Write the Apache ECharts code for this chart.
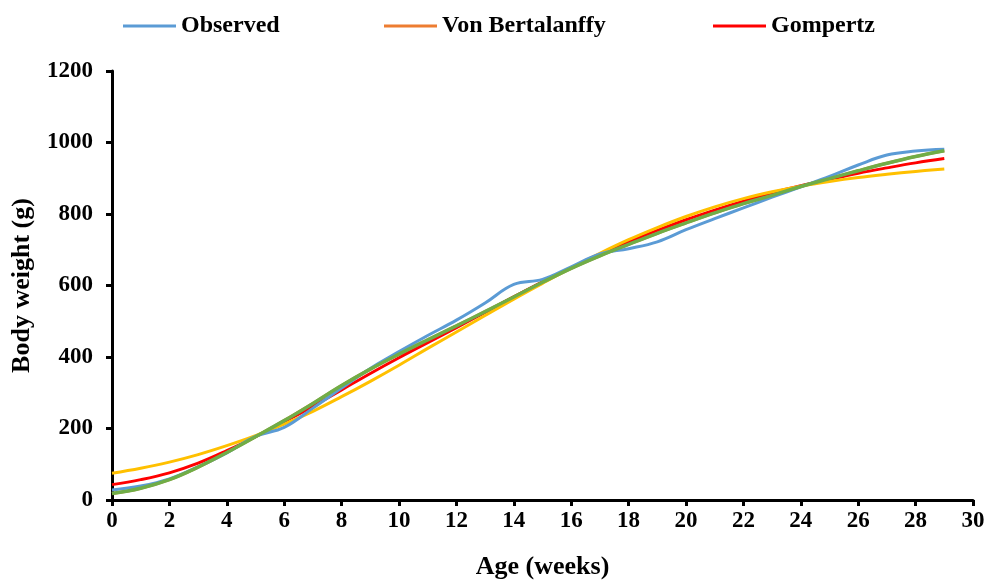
<!DOCTYPE html>
<html>
<head>
<meta charset="utf-8">
<script src="https://cdn.jsdelivr.net/npm/echarts@6/dist/echarts.min.js"></script>
<style>
html,body{margin:0;padding:0;background:#fff;}
#chart{width:991px;height:581px;}
</style>
</head>
<body>
<div id="chart"></div>
<script>
// Age in weeks
const weeks = [0,1,2,3,4,5,6,7,8,9,10,11,12,13,14,15,16,17,18,19,20,21,22,23,24,25,26,27,28,29];
// Body weight (g)
const observed = [28,39,59,93,132,178,203,257,313,368,415,460,503,551,603,617,652,688,703,722,756,787,817,847,876,905,937,965,976,981];
const vonBertalanffy = [18,33,57,92,133,177,222,270,320,366,408,448,487,527,568,609,648,683,715,746,775,803,829,852,877,899,921,942,961,977];
const gompertz = [43,57,76,103,138,177,219,262,308,354,398,440,482,525,568,610,650,688,722,754,784,811,836,859,879,897,914,929,943,955];
const logistic = [75,89,106,127,152,180,212,248,289,332,377,424,470,516,562,606,649,690,728,762,793,820,843,862,878,891,902,911,919,926];
const richards = [18,33,57,92,133,177,222,270,320,366,408,448,487,527,568,609,648,683,715,746,775,803,829,852,877,899,921,942,961,977];
const yTicks = [0,200,400,600,800,1000,1200];
const xTicks = [0,2,4,6,8,10,12,14,16,18,20,22,24,26,28,30];

const FONT = '"Liberation Serif","Times New Roman",serif';
const pair = arr => weeks.map((w,i)=>[w,arr[i]]);
const mk = (name, data, color, width, z) => ({
  name, type:'line', data:pair(data), smooth:0.4, showSymbol:false, symbol:'none',
  lineStyle:{color, width}, itemStyle:{color}, z, animation:false
});
const legendBase = (name,left) => ({
  data:[name], left, top:14, padding:0, icon:'rect', itemWidth:53, itemHeight:3, itemGap:0,
  textStyle:{fontFamily:FONT, fontWeight:'bold', fontSize:24, color:'#000'}
});

const chart = echarts.init(document.getElementById('chart'), null, {renderer:'canvas'});
chart.setOption({
  animation:false,
  backgroundColor:'#fff',
  legend:[legendBase('Observed',123), legendBase('Von Bertalanffy',384), legendBase('Gompertz',713)],
  grid:{left:112, right:18, top:71, bottom:81, containLabel:false, outerBoundsMode:'none'},
  xAxis:{
    type:'value', min:0, max:30, interval:2,
    name:'Age (weeks)', nameLocation:'middle', nameGap:54,
    nameTextStyle:{fontFamily:FONT, fontWeight:'bold', fontSize:26, color:'#000'},
    axisLine:{show:true, onZero:false, lineStyle:{color:'#000', width:3}},
    axisTick:{show:true, length:6, lineStyle:{color:'#000', width:3}},
    axisLabel:{fontFamily:FONT, fontWeight:'bold', fontSize:23, color:'#000', margin:10,
      formatter: v => xTicks.includes(v) ? String(v) : ''},
    splitLine:{show:false}
  },
  yAxis:{
    type:'value', min:0, max:1200, interval:200,
    name:'Body weight (g)', nameLocation:'middle', nameGap:77, nameRotate:90,
    nameTextStyle:{fontFamily:FONT, fontWeight:'bold', fontSize:26, color:'#000'},
    axisLine:{show:true, lineStyle:{color:'#000', width:3}},
    axisTick:{show:true, length:6, lineStyle:{color:'#000', width:3}},
    axisLabel:{fontFamily:FONT, fontWeight:'bold', fontSize:23, color:'#000', margin:19,
      formatter: v => yTicks.includes(v) ? String(v) : ''},
    splitLine:{show:false}
  },
  series:[
    mk('Observed', observed, '#5B9BD5', 3, 5),
    mk('Von Bertalanffy', vonBertalanffy, '#ED7D31', 3, 2),
    mk('Gompertz', gompertz, '#FF0000', 3, 3),
    mk('Logistic', logistic, '#FFC000', 3, 4),
    mk('Richards', richards, '#70AD47', 3.5, 6)
  ]
});
</script>
</body>
</html>
